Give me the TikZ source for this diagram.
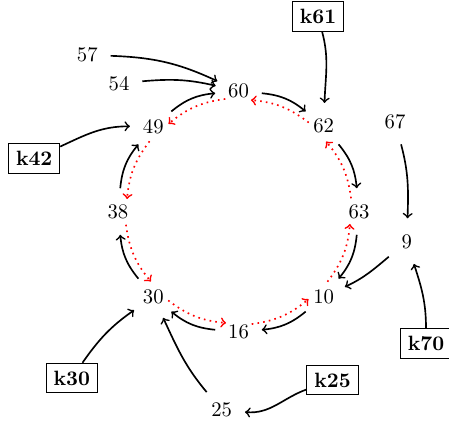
\documentclass[tikz,border=0pt]{standalone}
\usetikzlibrary{calc}
\begin{document}
\begin{tikzpicture}[x=0.4831pt,y=0.4831pt,
  num/.style={circle, minimum size=22.2pt, inner sep=0pt},
  inn/.style={circle, minimum size=14.5pt, inner sep=0pt},
  kbox/.style={draw, font=\bfseries, minimum height=14.3pt, inner xsep=3.6pt, inner ysep=0pt},
  succ/.style={->, thick},
  pred/.style={->, red, thick, dotted},
  link/.style={->, thick}]
\useasboundingbox (0,0) rectangle (449,-423);
\coordinate (c) at (238.5,-211.5);
\foreach \lab/\ang in {60/90,62/45,63/0,10/-45,16/-90,30/-135,38/180,49/135}{
  \node[num] (n\lab) at ($(c)+(\ang:120.5)$) {\lab};
  \node[inn] (i\lab) at (n\lab) {};
}
% successor arrows (clockwise)
\foreach \a/\b in {60/62,62/63,63/10,10/16,16/30,30/38,38/49,49/60}
  \draw[succ] (n\a) to[bend left=17] (n\b);
% predecessor arrows (counter-clockwise)
\draw[pred] (i62.166) to[bend right=16] (i60.324);
\draw[pred] (i63.121) to[bend right=16] (i62.279);
\draw[pred] (i10.76)  to[bend right=16] (i63.234);
\draw[pred] (i16.31)  to[bend right=16] (i10.189);
\draw[pred] (i30.346) to[bend right=16] (i16.144);
\draw[pred] (i38.301) to[bend right=16] (i30.99);
\draw[pred] (i49.256) to[bend right=16] (i38.54);
\draw[pred] (i60.211) to[bend right=16] (i49.9);
% outer nodes
\node[num] (n57) at (87.3,-55) {57};
\node[num] (n54) at (119,-83.3) {54};
\node[num] (n67) at (395,-121.7) {67};
\node[num] (n9) at (406.7,-241.7) {9};
\node[num] (n25) at (221.7,-410) {25};
\node[kbox] (k61) at (318,-16.3) {k61};
\node[kbox] (k70) at (426,-343.3) {k70};
\node[kbox] (k25) at (332.5,-380) {k25};
\node[kbox] (k30) at (71.8,-378) {k30};
\node[kbox] (k42) at (34.2,-158.7) {k42};
% outer links
\draw[link] (n57) to[out=-2,in=155] (n60);
\draw[link] (n54) to[out=5,in=167] (n60);
\draw[link] (k42) to[out=25,in=180] (n49);
\draw[link] (k61) to[out=-75,in=88] (n62);
\draw[link] (n67) to[out=-75,in=88] (n9);
\draw[link] (n9) to[out=220,in=25] (n10);
\draw[link] (k70) to[out=90,in=-72] (n9);
\draw[link] (k25) to[out=200,in=-5] (n25);
\draw[link] (n25) to[out=130,in=-65] (n30);
\draw[link] (k30) to[out=55,in=215] (n30);
\end{tikzpicture}
\end{document}
